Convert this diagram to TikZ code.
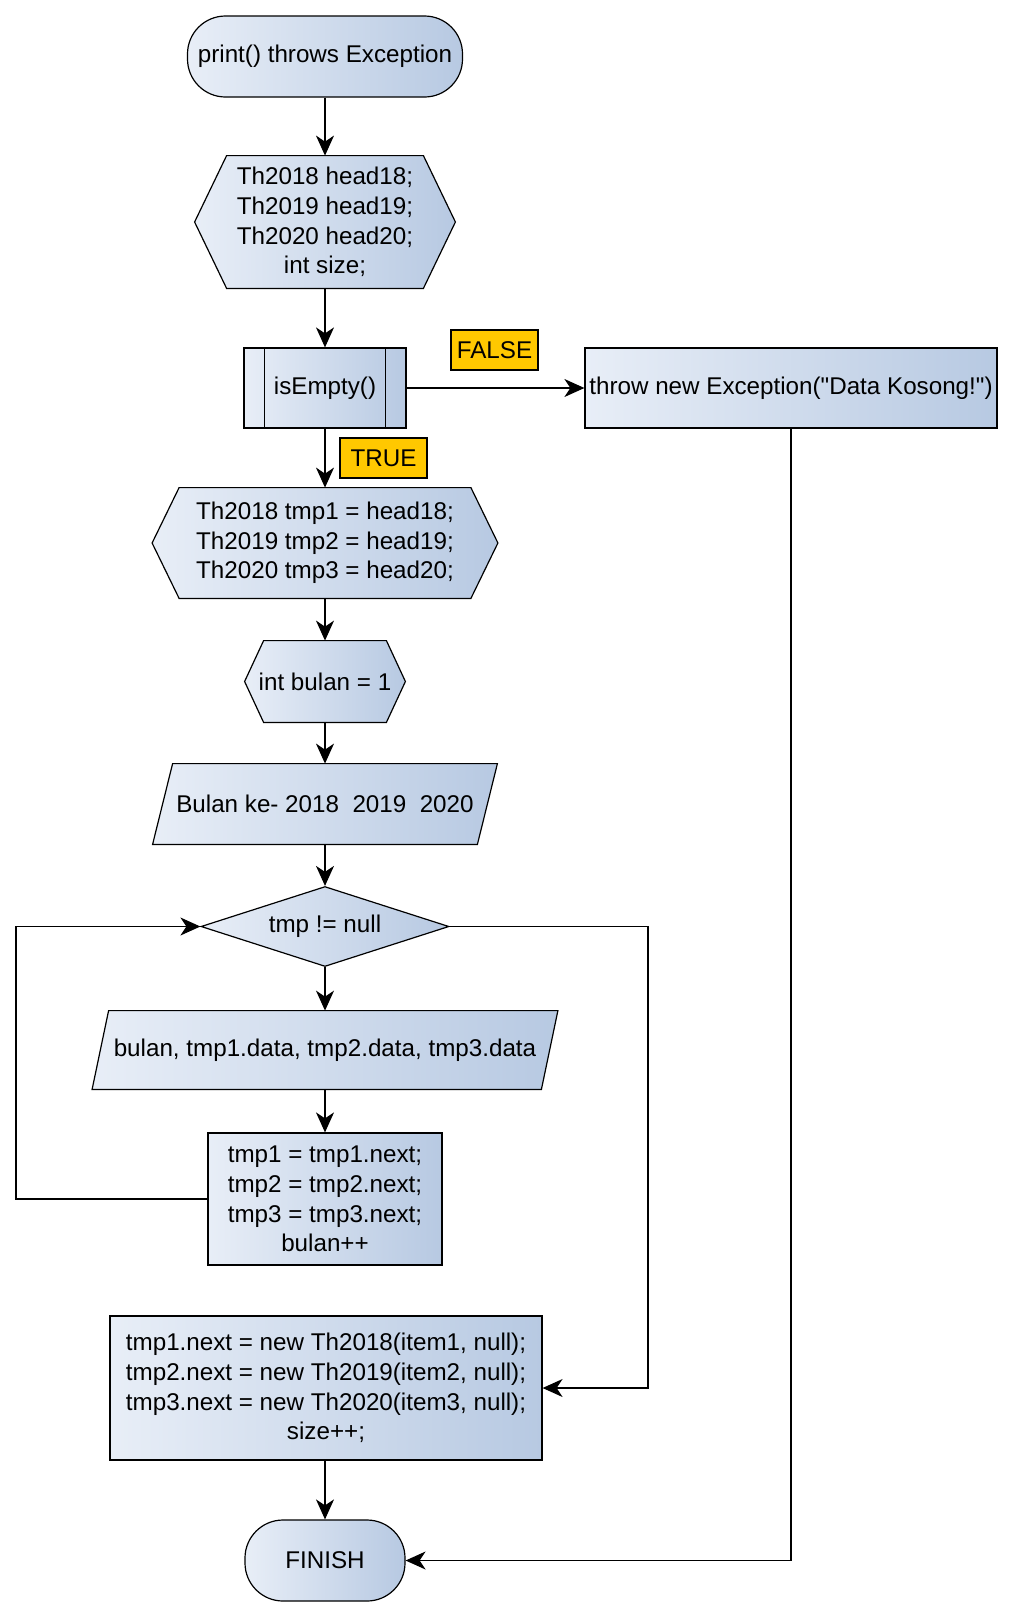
\documentclass[tikz,border=0pt]{standalone}
\usepackage{fontspec}
\setmainfont{Liberation Sans}
\usepackage{tikz}
\usetikzlibrary{arrows.meta,shapes.geometric,backgrounds}
\definecolor{boxl}{HTML}{E8EEF7}
\definecolor{boxr}{HTML}{B7C9E2}
\definecolor{tagc}{HTML}{FFC800}

\begin{document}
\begin{tikzpicture}[x=0.5pt,y=-0.5pt,
    box/.style={draw,line width=0.6pt,left color=boxl,right color=boxr},
    term/.style={box,rounded corners=19pt,minimum height=40.5pt},
    tagbox/.style={draw,line width=0.6pt,fill=tagc,minimum width=43.5pt,minimum height=20pt},
    >={Stealth[length=10pt,width=9pt,inset=3pt]}]
\useasboundingbox (0,0) rectangle (1010,1618);

\begin{scope}[every node/.style={font=\fontsize{12.1}{14.8}\selectfont,align=center,inner sep=0pt}]
    \node[term,minimum width=137.5pt] (start) at (325,56.5) {print() throws Exception};
    \node[minimum width=130pt,minimum height=66pt] (decl) at (325,222) {Th2018 head18;\\Th2019 head19;\\Th2020 head20;\\int size;};
    \node[box,minimum width=81pt,minimum height=40pt] (empty) at (325,388) {isEmpty()};
    \node[box,minimum width=206pt,minimum height=40pt] (throw) at (791,388) {throw new Exception(\textquotedbl Data Kosong!\textquotedbl)};
    \node[tagbox] (false) at (494.5,350) {FALSE};
    \node[tagbox] (true) at (383.5,458) {TRUE};
    \node[minimum width=172.5pt,minimum height=55pt] (init) at (325,543) {Th2018 tmp1 = head18;\\Th2019 tmp2 = head19;\\Th2020 tmp3 = head20;};
    \node[minimum width=80pt,minimum height=40.5pt] (bulan) at (325,681.5) {int bulan = 1};
    \node[minimum width=172pt,minimum height=40pt] (title) at (325,804) {Bulan ke- 2018~ 2019~ 2020};
    \node[box,diamond,aspect=3,minimum width=124pt,minimum height=40pt] (cond) at (325,926.5) {tmp != null};
    \node[minimum width=232.5pt,minimum height=39pt] (row) at (325,1050) {bulan, tmp1.data, tmp2.data, tmp3.data};
    \node[box,minimum width=117pt,minimum height=66pt] (next) at (325,1199) {tmp1 = tmp1.next;\\tmp2 = tmp2.next;\\tmp3 = tmp3.next;\\bulan++};
    \node[box,minimum width=216pt,minimum height=72pt] (add) at (326,1388) {tmp1.next = new Th2018(item1, null);\\tmp2.next = new Th2019(item2, null);\\tmp3.next = new Th2020(item3, null);\\size++;};
    \node[term,minimum width=80pt] (finish) at (325,1560.5) {FINISH};
\end{scope}

\begin{scope}[on background layer]
    \path[box] ([xshift=16pt]decl.north west) -- ([xshift=-16pt]decl.north east) -- (decl.east)
        -- ([xshift=-16pt]decl.south east) -- ([xshift=16pt]decl.south west) -- (decl.west) -- cycle;
    \path[box] ([xshift=13.5pt]init.north west) -- ([xshift=-13.5pt]init.north east) -- (init.east)
        -- ([xshift=-13.5pt]init.south east) -- ([xshift=13.5pt]init.south west) -- (init.west) -- cycle;
    \path[box] ([xshift=9.5pt]bulan.north west) -- ([xshift=-9.5pt]bulan.north east) -- (bulan.east)
        -- ([xshift=-9.5pt]bulan.south east) -- ([xshift=9.5pt]bulan.south west) -- (bulan.west) -- cycle;
    \path[box] ([xshift=10pt]title.north west) -- (title.north east)
        -- ([xshift=-10pt]title.south east) -- (title.south west) -- cycle;
    \path[box] ([xshift=8.25pt]row.north west) -- (row.north east)
        -- ([xshift=-8.25pt]row.south east) -- (row.south west) -- cycle;
\end{scope}

\draw[line width=0.6pt] ([xshift=10.5pt]empty.north west) -- ([xshift=10.5pt]empty.south west);
\draw[line width=0.6pt] ([xshift=-10.5pt]empty.north east) -- ([xshift=-10.5pt]empty.south east);

\coordinate (loopx) at (16,1199);
\coordinate (rightx) at (648,926.5);

\begin{scope}[line width=0.6pt]
    \draw[->] (start) -- (decl);
    \draw[->] (decl) -- (empty);
    \draw[->] (empty) -- (throw);
    \draw[->] (empty) -- (init);
    \draw[->] (init) -- (bulan);
    \draw[->] (bulan) -- (title);
    \draw[->] (title) -- (cond);
    \draw[->] (cond) -- (row);
    \draw[->] (row) -- (next);
    \draw[->] (next.west) -- (loopx) |- (cond.west);
    \draw[->] (cond.east) -- (rightx) |- (add.east);
    \draw[->] (add.south -| finish.north) -- (finish);
    \draw[->] (throw.south) |- (finish.east);
\end{scope}
\end{tikzpicture}
\end{document}
